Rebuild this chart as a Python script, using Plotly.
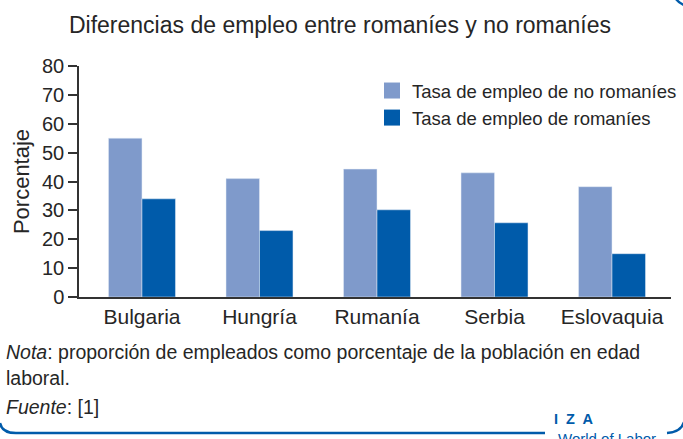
import plotly.graph_objects as go

categories = ["Bulgaria", "Hungría", "Rumanía", "Serbia", "Eslovaquia"]
no_roma = [55, 41, 44.3, 43, 38.2]
roma = [34, 23, 30.2, 25.7, 15]
series_names = ["Tasa de empleo de no romaníes", "Tasa de empleo de romaníes"]
y_ticks = [0, 10, 20, 30, 40, 50, 60, 70, 80]

LIGHT = "#7f9acb"
DARK = "#005baa"
TEXT = "#262626"
FONT = "Liberation Sans"

W, H = 683, 439
L, R, T, B = 79, 12, 66, 142
pw, ph = W - L - R, H - T - B


def px(x):
    return (x - L) / pw


def py(y):
    return (H - B - y) / ph


fig = go.Figure()
fig.add_bar(x=categories, y=no_roma, marker_color=LIGHT, showlegend=False, name=series_names[0])
fig.add_bar(x=categories, y=roma, marker_color=DARK, showlegend=False, name=series_names[1])
# legend entries with larger square swatches
fig.add_scatter(x=[None], y=[None], mode="markers", name=series_names[0],
                marker=dict(symbol="square", size=16, color=LIGHT))
fig.add_scatter(x=[None], y=[None], mode="markers", name=series_names[1],
                marker=dict(symbol="square", size=16, color=DARK))

shapes = [
    # bottom border, left part
    dict(type="path", xref="paper", yref="paper",
         path=f"M {px(0)},{py(423)} Q {px(2)},{py(433)} {px(16)},{py(433)} L {px(545)},{py(433)}",
         line=dict(color=DARK, width=2.5)),
    # bottom border, right part
    dict(type="path", xref="paper", yref="paper",
         path=f"M {px(667)},{py(433)} Q {px(681)},{py(432)} {px(684)},{py(422)}",
         line=dict(color=DARK, width=2.5)),
    # top right corner mark
    dict(type="path", xref="paper", yref="paper",
         path=f"M {px(676)},{py(-1)} Q {px(679)},{py(3)} {px(684)},{py(5)}",
         line=dict(color=DARK, width=2.5)),
]

annotations = [
    dict(text="<i>Nota</i>: proporción de empleados como porcentaje de la población en edad",
         x=px(4), y=py(352), xref="paper", yref="paper", xanchor="left", yanchor="middle",
         showarrow=False, font=dict(size=19.5, color=TEXT, family=FONT)),
    dict(text="laboral.",
         x=px(4), y=py(378), xref="paper", yref="paper", xanchor="left", yanchor="middle",
         showarrow=False, font=dict(size=19.5, color=TEXT, family=FONT)),
    dict(text="<i>Fuente</i>: [1]",
         x=px(4), y=py(407), xref="paper", yref="paper", xanchor="left", yanchor="middle",
         showarrow=False, font=dict(size=19.5, color=TEXT, family=FONT)),
    dict(text="<b>I  Z  A</b>",
         x=px(552), y=py(419), xref="paper", yref="paper", xanchor="left", yanchor="middle",
         showarrow=False, font=dict(size=14.5, color=DARK, family=FONT)),
    dict(text="World of Labor",
         x=px(556), y=py(439), xref="paper", yref="paper", xanchor="left", yanchor="middle",
         showarrow=False, font=dict(size=15, color=DARK, family=FONT)),
]

fig.update_layout(
    width=W, height=H,
    margin=dict(l=L, r=R, t=T, b=B, pad=0, autoexpand=False),
    paper_bgcolor="white", plot_bgcolor="white",
    barmode="group", bargap=0.43, bargroupgap=0,
    font=dict(family=FONT, color=TEXT),
    title=dict(text="Diferencias de empleo entre romaníes y no romaníes",
               x=px(340), xref="paper", xanchor="center",
               y=1 - 25 / H, yanchor="middle",
               font=dict(size=23, color=TEXT, family=FONT)),
    legend=dict(x=px(372), y=py(72), xanchor="left", yanchor="top",
                font=dict(size=18.5, color=TEXT, family=FONT),
                bgcolor="rgba(0,0,0,0)", itemsizing="trace"),
    shapes=shapes, annotations=annotations,
    xaxis=dict(showline=True, linecolor="#333333", linewidth=1.5,
               showgrid=False, ticks="", tickfont=dict(size=21, color=TEXT, family=FONT),
               range=[-0.536, 4.502]),
    yaxis=dict(range=[0, 80], tickvals=y_ticks, showline=True, linecolor="#333333",
               linewidth=1.5, showgrid=False, zeroline=False,
               ticks="outside", ticklen=9, tickwidth=1.5, tickcolor="#333333",
               tickfont=dict(size=20, color=TEXT, family=FONT),
               title=dict(text="Porcentaje", standoff=6,
                          font=dict(size=22, color=TEXT, family=FONT))),
)

fig.write_html("out.html", config={"displayModeBar": False},
               post_script="document.body.style.margin='0';document.body.style.overflow='hidden';")
